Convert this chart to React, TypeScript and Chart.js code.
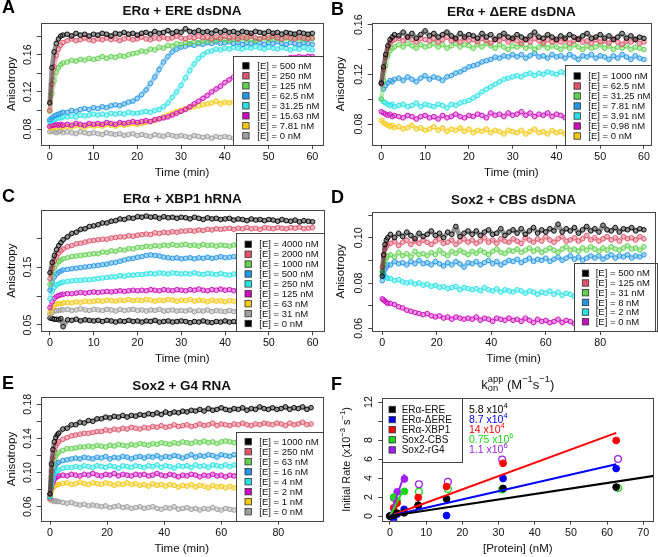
import React, { useEffect, useRef } from "react";
import { Chart, registerables } from "chart.js";

Chart.register(...registerables);

const FONT = "'Liberation Sans', Arial, Helvetica, sans-serif";
const AX = "#454545";
const TXT = "#111111";
const PAL = ["#000000", "#DF536B", "#61D04F", "#2297E6", "#28E2E5", "#CD0BBC", "#F5C710", "#9E9E9E"];

// ---------- time grids (min) ----------
const T60 = [0, 0.5, 1, 1.5, 2, 2.5, 3, 4, 5, 6, 7, 8, 9, 10,
  11, 12, 13, 14, 15, 16, 17, 18, 19, 20, 21, 22, 23, 24, 25, 26, 27, 28, 29, 30,
  31, 32, 33, 34, 35, 36, 37, 38, 39, 40, 41, 42, 43, 44, 45, 46, 47, 48, 49, 50,
  51, 52, 53, 54, 55, 56, 57, 58, 59, 60];
const T96 = [0, 0.5, 1, 1.5, 2,
  3, 4.5, 6, 7.5, 9, 10.5, 12, 13.5, 15, 16.5,
  18, 19.5, 21, 22.5, 24, 25.5, 27, 28.5, 30, 31.5,
  33, 34.5, 36, 37.5, 39, 40.5, 42, 43.5, 45, 46.5,
  48, 49.5, 51, 52.5, 54, 55.5, 57, 58.5, 60, 61.5,
  63, 64.5, 66, 67.5, 69, 70.5, 72, 73.5, 75, 76.5,
  78, 79.5, 81, 82.5, 84, 85.5, 87, 88.5, 90, 91.5,
  93, 94.5, 96];
const T92 = [0, 0.5, 1, 1.5, 2, 2.5,
  3, 4.5, 6, 7.5, 9, 10.5, 12, 13.5, 15, 16.5,
  18, 19.5, 21, 22.5, 24, 25.5, 27, 28.5, 30, 31.5,
  33, 34.5, 36, 37.5, 39, 40.5, 42, 43.5, 45, 46.5,
  48, 49.5, 51, 52.5, 54, 55.5, 57, 58.5, 60, 61.5,
  63, 64.5, 66, 67.5, 69, 70.5, 72, 73.5, 75, 76.5,
  78, 79.5, 81, 82.5, 84, 85.5, 87, 88.5, 90, 91.5];

// ---------- tick values ----------
const X_TICKS_60 = [0, 10, 20, 30, 40, 50, 60];
const X_TICKS_90 = [0, 20, 40, 60, 80];
const X_TICKS_F = [0, 10, 20, 30, 40, 50, 60, 70];
const Y_TICKS_A = [0.08, 0.1, 0.12, 0.14, 0.16, 0.18];
const Y_LABELS_A = [0.08, 0.12, 0.16];
const Y_TICKS_B = [0.08, 0.1, 0.12, 0.14, 0.16];
const Y_LABELS_B = [0.08, 0.12, 0.16];
const Y_TICKS_C = [0.05, 0.1, 0.15, 0.2];
const Y_LABELS_C = [0.05, 0.15];
const Y_TICKS_D = [0.06, 0.07, 0.08, 0.09, 0.1, 0.11];
const Y_LABELS_D = [0.06, 0.08, 0.1];
const Y_TICKS_E = [0.06, 0.08, 0.1, 0.12, 0.14, 0.16, 0.18];
const Y_LABELS_E = [0.06, 0.1, 0.14, 0.18];
const Y_TICKS_F = [0, 2, 4, 6, 8, 10, 12];
const Y_LABELS_F = [0, 2, 4, 6, 8, 12];

// ---------- Panel A: ERα + ERE dsDNA ----------
const A_LABELS = ["[E] = 500 nM", "[E] = 250 nM", "[E] = 125 nM", "[E] = 62.5 nM", "[E] = 31.25 nM", "[E] = 15.63 nM", "[E] = 7.81 nM", "[E] = 0 nM"];
const A_500 = [.108, .146, .163, .172, .177, .180, .181,
  .182, .180, .183, .181, .182, .180, .182,
  .181, .183, .182, .180, .183, .182, .184, .182, .183, .181,
  .183, .184, .182, .185, .183, .184, .186, .183, .185, .184,
  .188, .185, .184, .186, .184, .185, .183, .186, .184, .186,
  .184, .185, .183, .185, .184, .183, .185, .184, .183, .185,
  .183, .184, .182, .184, .183, .182, .184, .183, .182, .183];
const A_250 = [.100, .128, .147, .159, .166, .170, .173,
  .175, .177, .175, .176, .178, .176, .175,
  .177, .176, .178, .176, .177, .175, .177, .178, .176, .177,
  .179, .177, .176, .178, .177, .179, .177, .178, .180, .178,
  .177, .179, .178, .180, .178, .179, .177, .179, .178, .180,
  .178, .179, .177, .179, .178, .180, .178, .177, .179, .178,
  .180, .178, .177, .179, .178, .177, .179, .178, .177, .178];
const A_125 = [.099, .118, .132, .141, .146, .149, .151,
  .152, .154, .153, .155, .154, .156, .155,
  .156, .158, .156, .158, .157, .159, .158, .160, .161, .162,
  .164, .163, .166, .165, .168, .167, .170, .169, .172, .171,
  .173, .172, .174, .173, .175, .174, .176, .175, .177, .176,
  .175, .177, .176, .178, .176, .177, .175, .177, .178, .176,
  .178, .177, .176, .178, .177, .179, .177, .176, .178, .177];
const A_62 = [.090, .092, .094, .095, .096, .097, .098,
  .098, .100, .099, .101, .102, .101, .103,
  .102, .104, .103, .105, .106, .105, .107, .109, .110, .113,
  .117, .122, .129, .136, .144, .152, .158, .163, .166, .168,
  .169, .171, .170, .172, .171, .173, .172, .174, .172, .173,
  .174, .172, .173, .171, .173, .172, .174, .173, .171, .173,
  .172, .174, .172, .171, .173, .172, .171, .173, .172, .171];
const A_31 = [.088, .089, .090, .091, .092, .092, .093,
  .093, .094, .093, .095, .094, .095, .096,
  .095, .096, .095, .097, .096, .097, .096, .098, .097, .097,
  .098, .099, .098, .100, .101, .104, .108, .114, .120, .127,
  .135, .143, .150, .156, .160, .163, .164, .166, .165, .167,
  .166, .168, .167, .166, .168, .167, .169, .167, .166, .168,
  .167, .166, .168, .167, .165, .167, .166, .168, .166, .165];
const A_15 = [.083, .084, .084, .085, .084, .085, .084,
  .085, .084, .086, .085, .084, .086, .085,
  .086, .085, .087, .086, .085, .087, .086, .087, .088, .087,
  .088, .089, .088, .090, .091, .092, .093, .095, .097, .099,
  .101, .104, .107, .110, .113, .116, .120, .123, .126, .130,
  .133, .136, .139, .141, .143, .145, .147, .149, .151, .152,
  .153, .154, .155, .156, .157, .157, .158, .157, .158, .158];
const A_7 = [.082, .081, .082, .083, .082, .083, .082,
  .083, .082, .084, .083, .082, .084, .083,
  .084, .083, .085, .084, .083, .085, .084, .085, .086, .085,
  .086, .087, .088, .089, .091, .093, .095, .097, .099, .100,
  .102, .103, .104, .105, .106, .107, .108, .110, .107, .109,
  .108, .109, .107, .108, .110, .108, .107, .109, .108, .107,
  .109, .108, .107, .108, .109, .107, .108, .106, .108, .107];
const A_0 = [.077, .078, .077, .076, .077, .078, .076,
  .077, .076, .075, .077, .076, .075, .076,
  .075, .074, .076, .075, .074, .075, .073, .074, .075, .073,
  .074, .073, .072, .074, .073, .072, .074, .073, .072, .073,
  .072, .071, .073, .072, .071, .072, .070, .072, .071, .072,
  .071, .070, .072, .071, .070, .071, .072, .070, .071, .070,
  .071, .070, .069, .071, .070, .069, .070, .071, .069, .070];

// ---------- Panel B: ERα + ΔERE dsDNA ----------
const B_LABELS = ["[E] = 1000 nM", "[E] = 62.5 nM", "[E] = 31.25 nM", "[E] = 7.81 nM", "[E] = 3.91 nM", "[E] = 0.98 nM", "[E] = 0 nM"];
const B_1000 = [.113, .126, .136, .143, .148, .150, .152,
  .151, .154, .150, .153, .149, .152, .155,
  .151, .153, .150, .152, .154, .151, .149, .153, .150, .152,
  .151, .149, .153, .150, .152, .148, .151, .153, .150, .149,
  .152, .150, .148, .151, .154, .150, .149, .152, .150, .148,
  .151, .149, .152, .150, .148, .151, .153, .149, .150, .152,
  .149, .151, .148, .150, .153, .149, .151, .148, .150, .149];
const B_62 = [.112, .124, .134, .141, .145, .147, .148,
  .149, .147, .150, .148, .146, .149, .148,
  .147, .149, .146, .148, .150, .147, .148, .146, .149, .147,
  .148, .146, .149, .147, .145, .148, .147, .149, .146, .148,
  .147, .145, .148, .146, .149, .147, .145, .148, .146, .147,
  .146, .148, .145, .147, .149, .146, .147, .145, .148, .146,
  .147, .145, .148, .146, .144, .147, .146, .148, .145, .146];
const B_31 = [.100, .115, .127, .135, .139, .141, .142,
  .144, .142, .145, .143, .141, .144, .142,
  .143, .145, .142, .144, .141, .143, .145, .142, .144, .143,
  .141, .144, .142, .145, .143, .141, .144, .142, .140, .143,
  .142, .144, .141, .143, .140, .142, .144, .141, .143, .142,
  .140, .143, .141, .144, .142, .140, .143, .141, .142, .144,
  .141, .143, .140, .142, .141, .143, .140, .142, .141, .140];
const B_7 = [.113, .108, .111, .113, .115, .114, .116,
  .117, .115, .118, .116, .114, .117, .119,
  .116, .118, .117, .115, .118, .119, .121, .122, .124, .126,
  .127, .128, .130, .131, .132, .134, .133, .135, .134, .136,
  .134, .136, .133, .135, .137, .134, .135, .133, .136, .134,
  .135, .133, .136, .134, .132, .135, .134, .136, .133, .135,
  .134, .132, .135, .133, .136, .134, .132, .135, .133, .132];
const B_3 = [.100, .098, .097, .096, .095, .096, .094,
  .095, .096, .094, .095, .097, .094, .096,
  .095, .094, .096, .095, .093, .096, .095, .097, .098, .099,
  .101, .103, .106, .108, .110, .112, .114, .116, .117, .118,
  .119, .118, .120, .121, .119, .121, .120, .122, .121, .120,
  .122, .121, .119, .122, .120, .121, .123, .120, .121, .122,
  .120, .122, .121, .119, .122, .120, .121, .122, .120, .121];
const B_098 = [.090, .089, .088, .087, .088, .086, .087,
  .086, .085, .087, .086, .084, .086, .087,
  .085, .086, .084, .087, .085, .086, .088, .086, .085, .087,
  .086, .088, .087, .085, .089, .087, .088, .086, .089, .087,
  .088, .090, .087, .089, .086, .088, .087, .089, .086, .088,
  .087, .085, .088, .086, .087, .085, .088, .086, .087, .086,
  .088, .086, .085, .087, .086, .088, .085, .087, .086, .085];
const B_0 = [.083, .081, .080, .079, .078, .079, .077,
  .078, .076, .077, .079, .076, .077, .075,
  .076, .078, .075, .077, .074, .076, .075, .077, .074, .076,
  .073, .075, .074, .076, .073, .075, .074, .072, .075, .074,
  .073, .075, .072, .074, .076, .073, .074, .072, .075, .073,
  .074, .072, .075, .073, .071, .074, .073, .075, .072, .074,
  .073, .075, .072, .074, .073, .071, .074, .073, .072, .074];

// ---------- Panel C: ERα + XBP1 hRNA ----------
const C_LABELS = ["[E] = 4000 nM", "[E] = 2000 nM", "[E] = 1000 nM", "[E] = 500 nM", "[E] = 250 nM", "[E] = 125 nM", "[E] = 63 nM", "[E] = 31 nM", "[E] = 0 nM"];
const C_4000 = [.140, .158, .170, .180, .187, .192, .197,
  .202, .208, .210, .215, .216, .220, .221,
  .223, .226, .226, .229, .230, .233, .232, .235, .234, .237,
  .236, .238, .236, .237, .234, .237, .235, .236, .234, .236,
  .235, .233, .236, .234, .232, .235, .233, .234, .232, .233,
  .234, .231, .233, .232, .230, .233, .231, .232, .230, .232,
  .231, .229, .232, .230, .229, .231, .228, .230, .229, .228];
const C_2000 = [.130, .148, .160, .168, .174, .178, .181,
  .185, .187, .190, .191, .193, .195, .196,
  .197, .198, .198, .200, .201, .202, .202, .204, .203, .205,
  .206, .207, .206, .209, .208, .210, .209, .211, .210, .212,
  .212, .213, .212, .214, .213, .215, .214, .216, .215, .216,
  .217, .215, .217, .216, .218, .216, .217, .215, .218, .217,
  .216, .218, .217, .216, .218, .217, .219, .216, .217, .218];
const C_1000 = [.120, .137, .148, .155, .159, .162, .164,
  .166, .168, .169, .170, .171, .172, .173,
  .173, .176, .175, .178, .177, .180, .179, .182, .181, .184,
  .184, .186, .185, .187, .186, .188, .187, .189, .187, .188,
  .189, .187, .188, .186, .189, .187, .188, .186, .188, .187,
  .186, .188, .187, .189, .186, .187, .188, .186, .187, .188,
  .187, .186, .188, .187, .185, .187, .188, .186, .187, .186];
const C_500 = [.110, .124, .133, .138, .141, .143, .145,
  .146, .147, .148, .149, .150, .151, .152,
  .153, .154, .155, .157, .158, .160, .162, .164, .165, .167,
  .168, .170, .171, .170, .169, .167, .166, .165, .166, .164,
  .165, .166, .164, .166, .165, .167, .165, .166, .168, .166,
  .167, .168, .166, .167, .169, .167, .166, .168, .167, .166,
  .168, .167, .166, .168, .167, .169, .166, .167, .168, .167];
const C_250 = [.095, .108, .115, .119, .121, .123, .124,
  .125, .126, .127, .127, .128, .128, .129,
  .130, .131, .132, .133, .133, .135, .134, .136, .136, .137,
  .137, .138, .139, .138, .140, .139, .138, .140, .139, .138,
  .139, .138, .140, .138, .137, .139, .138, .137, .139, .137,
  .136, .138, .137, .136, .138, .137, .136, .138, .137, .136,
  .138, .137, .136, .138, .137, .136, .137, .138, .136, .137];
const C_125 = [.080, .090, .096, .099, .101, .102, .103,
  .104, .104, .105, .106, .105, .106, .107,
  .106, .107, .108, .107, .108, .109, .108, .109, .110, .109,
  .110, .109, .111, .110, .109, .111, .110, .109, .111, .110,
  .109, .111, .110, .112, .110, .109, .111, .110, .112, .110,
  .111, .109, .110, .112, .110, .111, .109, .111, .110, .112,
  .110, .111, .109, .110, .112, .110, .111, .109, .110, .111];
const C_63 = [.072, .080, .084, .086, .087, .087, .088,
  .089, .088, .090, .089, .091, .090, .091,
  .092, .091, .093, .092, .091, .093, .092, .094, .092, .093,
  .092, .094, .093, .091, .093, .092, .094, .093, .091, .093,
  .092, .094, .091, .093, .092, .090, .093, .091, .092, .090,
  .092, .091, .089, .092, .090, .091, .089, .092, .090, .091,
  .090, .092, .089, .091, .090, .088, .091, .090, .089, .091];
const C_31 = [.068, .072, .074, .075, .075, .076, .076,
  .077, .075, .076, .078, .076, .075, .077,
  .076, .075, .077, .076, .074, .077, .075, .076, .077, .075,
  .076, .074, .076, .075, .077, .074, .075, .076, .074, .075,
  .074, .076, .073, .075, .074, .076, .073, .075, .074, .073,
  .075, .073, .074, .076, .073, .074, .072, .075, .073, .074,
  .073, .075, .072, .074, .073, .072, .074, .073, .072, .073];
const C_0 = [.062, .061, .060, .060, .059, .061, .047,
  .059, .058, .060, .057, .059, .058, .057,
  .058, .056, .058, .057, .055, .057, .056, .058, .056, .057,
  .055, .057, .056, .058, .055, .056, .057, .055, .056, .057,
  .056, .054, .056, .055, .057, .055, .054, .056, .055, .057,
  .055, .056, .054, .056, .055, .053, .055, .056, .054, .055,
  .056, .054, .055, .053, .055, .054, .056, .054, .055, .054];

// ---------- Panel D: Sox2 + CBS dsDNA ----------
const D_LABELS = ["[E] = 500 nM", "[E] = 125 nM", "[E] = 31 nM", "[E] = 8 nM", "[E] = 2 nM", "[E] = 0 nM"];
const D_500 = [.0830, .0925, .0970, .0990, .1000,
  .1015, .1000, .1020, .1005, .1025, .1010, .0995, .1020, .1005, .1015,
  .1030, .1010, .1020, .1000, .1025, .1015, .1050, .1005, .1020, .1030,
  .1015, .1030, .1010, .1025, .1035, .1015, .1020, .1040, .1010, .1025,
  .1035, .1020, .1040, .1015, .1030, .1045, .1020, .1035, .1025, .1040,
  .1030, .1060, .1025, .1040, .1030, .1045, .1020, .1035, .1050, .1030,
  .1040, .1025, .1055, .1035, .1030, .1045, .1025, .1040, .1035, .1045,
  .1030, .1040, .1035];
const D_125 = [.0870, .0920, .0950, .0960, .0970,
  .0975, .0985, .0965, .0980, .0990, .0970, .0985, .0975, .0990, .0980,
  .0970, .0985, .0995, .0975, .0980, .0990, .0970, .0985, .0995, .0980,
  .0990, .0975, .0985, .1000, .0980, .0990, .0975, .0995, .0985, .0980,
  .0995, .0985, .0975, .1000, .0990, .0980, .0995, .0985, .1005, .0990,
  .0980, .0995, .1005, .0985, .0990, .1000, .0985, .0995, .1010, .0990,
  .1000, .0985, .0995, .1005, .0990, .1000, .0985, .1005, .0995, .1000,
  .0990, .1005, .0995];
const D_31 = [.0850, .0880, .0900, .0910, .0920,
  .0925, .0915, .0935, .0920, .0930, .0915, .0940, .0925, .0930, .0920,
  .0935, .0925, .0945, .0930, .0920, .0940, .0930, .0945, .0935, .0925,
  .0940, .0930, .0945, .0935, .0925, .0940, .0950, .0935, .0930, .0945,
  .0940, .0950, .0935, .0945, .0955, .0940, .0950, .0935, .0945, .0955,
  .0945, .0935, .0950, .0960, .0945, .0950, .0940, .0955, .0945, .0960,
  .0950, .0940, .0955, .0945, .0960, .0950, .0945, .0955, .0965, .0950,
  .0955, .0945, .0960];
const D_8 = [.0810, .0840, .0860, .0870, .0880,
  .0880, .0895, .0885, .0890, .0880, .0895, .0885, .0900, .0885, .0890,
  .0880, .0895, .0885, .0875, .0890, .0880, .0895, .0885, .0870, .0890,
  .0885, .0895, .0880, .0890, .0900, .0885, .0895, .0880, .0890, .0900,
  .0895, .0905, .0890, .0900, .0910, .0895, .0905, .0900, .0910, .0895,
  .0905, .0915, .0900, .0910, .0920, .0905, .0915, .0900, .0910, .0920,
  .0910, .0920, .0905, .0915, .0925, .0910, .0920, .0915, .0925, .0910,
  .0920, .0915, .0925];
const D_2 = [.0850, .0835, .0830, .0825, .0820,
  .0820, .0810, .0815, .0805, .0800, .0805, .0795, .0800, .0790, .0795,
  .0785, .0790, .0780, .0785, .0775, .0780, .0785, .0770, .0780, .0775,
  .0770, .0775, .0765, .0780, .0770, .0765, .0775, .0760, .0770, .0765,
  .0760, .0770, .0765, .0755, .0765, .0760, .0750, .0760, .0755, .0765,
  .0750, .0760, .0745, .0755, .0750, .0740, .0755, .0745, .0750, .0740,
  .0750, .0745, .0740, .0750, .0745, .0735, .0745, .0740, .0750, .0740,
  .0745, .0740, .0735];
const D_0 = [.0730, .0725, .0720, .0715, .0710,
  .0710, .0705, .0695, .0690, .0680, .0675, .0670, .0665, .0660, .0665,
  .0655, .0650, .0655, .0645, .0650, .0640, .0650, .0645, .0640, .0645,
  .0640, .0650, .0635, .0645, .0640, .0630, .0645, .0640, .0635, .0645,
  .0635, .0640, .0630, .0645, .0635, .0625, .0640, .0630, .0635, .0625,
  .0630, .0640, .0625, .0635, .0630, .0620, .0635, .0625, .0630, .0620,
  .0630, .0625, .0615, .0630, .0620, .0625, .0615, .0625, .0620, .0615,
  .0625, .0620, .0615];

// ---------- Panel E: Sox2 + G4 RNA ----------
const E_LABELS = ["[E] = 1000 nM", "[E] = 250 nM", "[E] = 63 nM", "[E] = 16 nM", "[E] = 4 nM", "[E] = 2 nM", "[E] = 1 nM", "[E] = 0 nM"];
const E_1000 = [.075, .110, .127, .136, .141, .144,
  .146, .151, .152, .156, .156, .159, .158, .161, .160, .163,
  .163, .165, .164, .166, .165, .167, .165, .167, .166, .168,
  .167, .169, .168, .170, .168, .171, .169, .171, .170, .172,
  .171, .173, .172, .174, .172, .175, .173, .174, .176, .174,
  .173, .175, .174, .176, .173, .175, .174, .177, .175, .174,
  .176, .174, .175, .177, .174, .176, .175, .177, .174, .176];
const E_250 = [.075, .102, .117, .126, .131, .134,
  .136, .139, .141, .143, .144, .145, .146, .146, .147, .148,
  .148, .150, .149, .151, .150, .152, .151, .153, .152, .151,
  .153, .152, .154, .153, .155, .153, .154, .156, .154, .155,
  .156, .154, .155, .157, .155, .156, .158, .155, .157, .156,
  .155, .157, .156, .158, .156, .155, .157, .156, .158, .157,
  .156, .158, .157, .155, .158, .156, .157, .159, .156, .157];
const E_63 = [.073, .095, .108, .115, .119, .122,
  .124, .126, .128, .128, .129, .130, .130, .131, .130, .132,
  .131, .130, .132, .131, .133, .132, .131, .133, .132, .134,
  .133, .132, .134, .133, .135, .134, .133, .135, .134, .136,
  .135, .134, .136, .135, .137, .135, .136, .134, .136, .137,
  .136, .135, .137, .136, .138, .136, .135, .137, .136, .138,
  .137, .136, .138, .136, .137, .139, .136, .137, .138, .136];
const E_16 = [.072, .090, .100, .106, .109, .111,
  .112, .114, .115, .116, .117, .116, .118, .117, .116, .118,
  .117, .119, .116, .118, .117, .119, .118, .116, .118, .119,
  .117, .119, .118, .120, .117, .119, .118, .120, .119, .117,
  .119, .121, .118, .120, .119, .121, .120, .118, .121, .120,
  .119, .121, .120, .122, .119, .121, .120, .122, .121, .119,
  .121, .120, .122, .119, .121, .120, .122, .121, .119, .121];
const E_4 = [.071, .085, .093, .098, .101, .102,
  .103, .105, .106, .106, .107, .106, .108, .107, .106, .108,
  .107, .106, .108, .107, .105, .108, .107, .106, .108, .107,
  .106, .108, .107, .109, .106, .108, .107, .105, .108, .107,
  .108, .106, .109, .107, .108, .106, .109, .108, .107, .109,
  .107, .109, .108, .106, .109, .108, .110, .107, .108, .109,
  .108, .107, .109, .108, .110, .107, .108, .109, .107, .108];
const E_2 = [.070, .082, .088, .092, .094, .095,
  .096, .097, .096, .098, .097, .096, .098, .097, .099, .097,
  .096, .098, .097, .099, .096, .098, .097, .096, .098, .097,
  .098, .096, .097, .099, .097, .096, .098, .097, .095, .097,
  .096, .098, .097, .095, .097, .096, .098, .096, .097, .095,
  .097, .096, .098, .096, .095, .097, .096, .098, .096, .097,
  .096, .098, .095, .097, .096, .098, .096, .095, .097, .096];
const E_1 = [.069, .078, .082, .084, .085, .086,
  .086, .087, .088, .086, .087, .089, .087, .086, .088, .087,
  .086, .088, .087, .085, .087, .086, .088, .086, .087, .085,
  .086, .084, .087, .085, .086, .084, .086, .085, .083, .085,
  .084, .086, .083, .085, .084, .082, .085, .083, .084, .082,
  .084, .082, .083, .085, .082, .083, .081, .084, .082, .083,
  .082, .084, .081, .083, .082, .080, .083, .082, .081, .083];
const E_0 = [.068, .068, .067, .066, .067, .066,
  .066, .065, .064, .065, .063, .062, .063, .061, .062, .061,
  .060, .061, .059, .060, .061, .059, .060, .058, .059, .060,
  .058, .059, .060, .058, .057, .059, .058, .060, .057, .058,
  .059, .057, .058, .056, .058, .057, .059, .057, .056, .058,
  .057, .056, .058, .057, .055, .057, .056, .058, .056, .057,
  .056, .057, .055, .057, .056, .055, .057, .056, .055, .056];

// ---------- Panel F: initial rates ----------
const F_LABELS = ["ERα-ERE", "ERα-ΔERE", "ERα-XBP1", "Sox2-CBS", "Sox2-rG4"];
const F_COLORS = ["#000000", "#0000FF", "#FF0000", "#19D919", "#A020F0"];
const F_KON = [["5.8 x10", "4"], ["8.7 x10", "4"], ["14 x10", "4"], ["0.75 x10", "6"], ["1.1 x10", "6"]];
const F_ERA_X = [0, 0.98, 1.95, 3.91, 7.81, 15.63, 31.25, 62.5];
const F_ERE_Y = [0, 0.1, 0.3, 0.35, 1.15, 1.8, 2.9, 3.05];
const F_DERE_Y = [0, -0.4, 0.2, 0.7, 1.1, 0.05, 3.95, 5.0];
const F_XBP1_Y = [0, 0.85, 1.35, 0.35, 1.95, 3.1, 5.55, 7.95];
const F_SOX_X = [0, 1, 2, 4];
const F_SOX_OPEN_X = [8, 16, 31, 63];
const F_CBS_Y = [0, 2.0, 1.6, 2.6];
const F_CBS_OPEN_Y = [2.55, 2.85, 2.8, 2.95];
const F_RG4_Y = [0, 1.9, 2.55, 3.9];
const F_RG4_OPEN_Y = [3.35, 3.6, 5.95, 6.0];
const F_FIT_ERE = { x: [0, 73], y: [0, 4.23] };
const F_FIT_DERE = { x: [0, 62.5], y: [0, 5.44] };
const F_FIT_XBP1 = { x: [0, 62.5], y: [0, 8.75] };
const F_FIT_CBS = { x: [0, 3.3], y: [0, 2.45] };
const F_FIT_RG4 = { x: [0, 4], y: [0, 4.4] };

// ---------- helpers ----------
function rgba(hex: string, a: number) {
  const n = parseInt(hex.slice(1), 16);
  return `rgba(${(n >> 16) & 255},${(n >> 8) & 255},${n & 255},${a})`;
}

function courseSets(times: number[], series: number[][], labels: string[], colors: string[]) {
  return series.map((vals, i) => ({
    label: labels[i],
    data: vals.slice(0, times.length).map((v, j) => ({ x: times[j], y: v })),
    showLine: true,
    borderColor: rgba(colors[i], 0.42),
    borderWidth: 4.6,
    borderJoinStyle: "round",
    borderCapStyle: "round",
    tension: 0,
    pointRadius: 2.3,
    pointHoverRadius: 2.3,
    pointBorderWidth: 0.9,
    pointBorderColor: colors[i],
    pointBackgroundColor: "rgba(255,255,255,0)",
    order: i + 1,
  }));
}

function fPoints(xs: number[], ys: number[], color: string, filled: boolean) {
  return {
    data: xs.map((x, i) => ({ x, y: ys[i] })),
    showLine: false,
    pointRadius: 3.4,
    pointHoverRadius: 3.4,
    pointBorderWidth: filled ? 1 : 1.3,
    pointBorderColor: color,
    pointBackgroundColor: filled ? color : "rgba(255,255,255,0)",
    order: 2,
  };
}

function fLine(fit: { x: number[]; y: number[] }, color: string) {
  return {
    data: fit.x.map((x, i) => ({ x, y: fit.y[i] })),
    showLine: true,
    borderColor: color,
    borderWidth: 2,
    pointRadius: 0,
    pointHoverRadius: 0,
    order: 1,
  };
}

type Seg = { t: string; sup?: string; sub?: string };

function drawRich(ctx: CanvasRenderingContext2D, segs: Seg[], x: number, y: number, align: string, size: number, weight: string, color: string) {
  const small = size * 0.72;
  const big = `${weight} ${size}px ${FONT}`;
  const sm = `${weight} ${small}px ${FONT}`;
  const widths = segs.map((s) => {
    ctx.font = big;
    const wb = ctx.measureText(s.t).width;
    ctx.font = sm;
    const ws = Math.max(s.sup ? ctx.measureText(s.sup).width : 0, s.sub ? ctx.measureText(s.sub).width : 0);
    return [wb, ws];
  });
  const total = widths.reduce((a, w) => a + w[0] + w[1], 0);
  let cx = align === "center" ? x - total / 2 : x;
  ctx.fillStyle = color;
  ctx.textAlign = "left";
  ctx.textBaseline = "middle";
  segs.forEach((s, i) => {
    ctx.font = big;
    ctx.fillText(s.t, cx, y);
    cx += widths[i][0];
    ctx.font = sm;
    if (s.sup) ctx.fillText(s.sup, cx, y - size * 0.4);
    if (s.sub) ctx.fillText(s.sub, cx, y + size * 0.3);
    cx += widths[i][1];
  });
}

// ---------- panel specs ----------
const PANELS: any[] = [
  {
    key: "A", left: 0, top: 0, w: 329, h: 185, plot: [40.7, 22.7, 323.3, 145], letterY: 8.5,
    title: [{ t: "ERα + ERE dsDNA" }], titleDy: 11, titleBold: true, titleSize: 13.5,
    xMin: -2.06, xMax: 62.5, xTicks: X_TICKS_60, yMin: 0.0628, yMax: 0.1944, yTicks: Y_TICKS_A, yLabels: Y_LABELS_A, yDec: 2,
    xTitle: "Time (min)", yTitle: [{ t: "Anisotropy" }], yTitleX: 12.3, yTitleSize: 11.5,
    legend: { box: [232.7, 56, 323.3, 145], y0: 65.8, dy: 10, sq: 10, tx: 24.6, size: 9.5, labels: A_LABELS, colors: PAL },
    datasets: courseSets(T60, [A_500, A_250, A_125, A_62, A_31, A_15, A_7, A_0], A_LABELS, PAL),
  },
  {
    key: "B", left: 329, top: 0, w: 329, h: 185, plot: [42.7, 23.3, 322, 144.7], letterY: 10,
    title: [{ t: "ERα + ΔERE dsDNA" }], titleDy: 11, titleBold: true, titleSize: 13.5,
    xMin: -2.19, xMax: 61.6, xTicks: X_TICKS_60, yMin: 0.0634, yMax: 0.1611, yTicks: Y_TICKS_B, yLabels: Y_LABELS_B, yDec: 2,
    xTitle: "Time (min)", yTitle: [{ t: "Anisotropy" }], yTitleX: 12, yTitleSize: 11.5,
    legend: { box: [236, 65.3, 322, 144.7], y0: 76, dy: 10, sq: 9, tx: 23.3, size: 9.5, labels: B_LABELS, colors: PAL },
    datasets: courseSets(T60, [B_1000, B_62, B_31, B_7, B_3, B_098, B_0], B_LABELS, PAL),
  },
  {
    key: "C", left: 0, top: 185, w: 329, h: 185, plot: [40.7, 25, 324, 146.3], letterY: 11.7,
    title: [{ t: "ERα + XBP1 hRNA" }], titleDy: 11, titleBold: true, titleSize: 13.5,
    xMin: -2.12, xMax: 62.6, xTicks: X_TICKS_60, yMin: 0.0391, yMax: 0.2484, yTicks: Y_TICKS_C, yLabels: Y_LABELS_C, yDec: 2,
    xTitle: "Time (min)", yTitle: [{ t: "Anisotropy" }], yTitleX: 12, yTitleSize: 11.5,
    legend: { box: [236, 48.3, 324, 146.3], y0: 59.3, dy: 9.9, sq: 9, tx: 23.3, size: 9.5, labels: C_LABELS, colors: [...PAL, PAL[0]] },
    datasets: courseSets(T60, [C_4000, C_2000, C_1000, C_500, C_250, C_125, C_63, C_31, C_0], C_LABELS, [...PAL, PAL[0]]),
  },
  {
    key: "D", left: 329, top: 185, w: 329, h: 185, plot: [43.3, 26.7, 327.7, 146], letterY: 13,
    title: [{ t: "Sox2 + CBS dsDNA" }], titleDy: 11, titleBold: true, titleSize: 13.5,
    xMin: -3.65, xMax: 100, xTicks: X_TICKS_90, yMin: 0.0588, yMax: 0.1115, yTicks: Y_TICKS_D, yLabels: Y_LABELS_D, yDec: 2,
    xTitle: "Time (min)", yTitle: [{ t: "Anisotropy" }], yTitleX: 12, yTitleSize: 11.5,
    legend: { box: [245, 77.7, 327.7, 146], y0: 88.3, dy: 9.7, sq: 8.3, tx: 21.7, size: 9.5, labels: D_LABELS, colors: PAL },
    datasets: courseSets(T96, [D_500, D_125, D_31, D_8, D_2, D_0], D_LABELS, PAL.slice(0, 6)),
  },
  {
    key: "E", left: 0, top: 370, w: 329, h: 187, plot: [40.7, 27.3, 322.7, 150.7], letterY: 14,
    title: [{ t: "Sox2 + G4 RNA" }], titleDy: 11, titleBold: true, titleSize: 13.5,
    xMin: -3.26, xMax: 95.55, xTicks: X_TICKS_90, yMin: 0.0436, yMax: 0.1882, yTicks: Y_TICKS_E, yLabels: Y_LABELS_E, yDec: 2,
    xTitle: "Time (min)", yTitle: [{ t: "Anisotropy" }], yTitleX: 12, yTitleSize: 11.5,
    legend: { box: [236, 61.7, 322.7, 150.7], y0: 71.7, dy: 10, sq: 9, tx: 23.3, size: 9.5, labels: E_LABELS, colors: PAL },
    datasets: courseSets(T92, [E_1000, E_250, E_63, E_16, E_4, E_2, E_1, E_0], E_LABELS, PAL),
  },
  {
    key: "F", left: 329, top: 370, w: 329, h: 187, plot: [53.3, 28.3, 325, 150.7], letterY: 15.5,
    title: [{ t: "k", sub: "on", sup: "app" }, { t: " (M", sup: "−1" }, { t: "s", sup: "−1" }, { t: ")" }], titleDy: 13.3, titleBold: false, titleSize: 13,
    xMin: -2.12, xMax: 72.76, xTicks: X_TICKS_F, yMin: -0.49, yMax: 12.39, yTicks: Y_TICKS_F, yLabels: Y_LABELS_F, yDec: 0,
    xTitle: "[Protein] (nM)", yTitle: [{ t: "Initial Rate (x10", sup: "−3" }, { t: " s", sup: "−1" }, { t: ")" }], yTitleX: 18.3, yTitleSize: 10.8,
    legend: { box: [53.3, 28.3, 132.7, 92], y0: 39.5, dy: 10.1, sq: 6.7, tx: 19.4, size: 10, labels: F_LABELS, colors: F_COLORS },
    kon: { x: 140, y0: 40.5, dy: 9.9, size: 10.5 },
    datasets: [
      fLine(F_FIT_ERE, F_COLORS[0]),
      fLine(F_FIT_DERE, F_COLORS[1]),
      fLine(F_FIT_XBP1, F_COLORS[2]),
      fLine(F_FIT_CBS, F_COLORS[3]),
      fLine(F_FIT_RG4, F_COLORS[4]),
      fPoints(F_ERA_X, F_ERE_Y, F_COLORS[0], true),
      fPoints(F_ERA_X, F_DERE_Y, F_COLORS[1], true),
      fPoints(F_ERA_X, F_XBP1_Y, F_COLORS[2], true),
      fPoints(F_SOX_X, F_CBS_Y, F_COLORS[3], true),
      fPoints(F_SOX_OPEN_X, F_CBS_OPEN_Y, F_COLORS[3], false),
      fPoints(F_SOX_X, F_RG4_Y, F_COLORS[4], true),
      fPoints(F_SOX_OPEN_X, F_RG4_OPEN_Y, F_COLORS[4], false),
    ],
  },
];

function decorPlugin(p: any) {
  return {
    id: "decor" + p.key,
    afterDraw(chart: any) {
      const ctx: CanvasRenderingContext2D = chart.ctx;
      const ca = chart.chartArea;
      ctx.save();
      // legend
      const lg = p.legend;
      const [l, t, r, b] = lg.box;
      ctx.fillStyle = "#ffffff";
      ctx.fillRect(l, t, r - l, b - t);
      ctx.strokeStyle = AX;
      ctx.lineWidth = 1;
      ctx.strokeRect(Math.round(l) + 0.5, Math.round(t) + 0.5, Math.round(r) - Math.round(l), Math.round(b) - Math.round(t));
      ctx.font = `${lg.size}px ${FONT}`;
      ctx.textAlign = "left";
      ctx.textBaseline = "middle";
      lg.labels.forEach((lab: string, i: number) => {
        const y = lg.y0 + i * lg.dy;
        const sx = l + lg.sq;
        ctx.fillStyle = lg.colors[i];
        ctx.fillRect(sx, y - 3.2, 6.4, 6.4);
        ctx.strokeStyle = "#333333";
        ctx.lineWidth = 0.8;
        ctx.strokeRect(sx, y - 3.2, 6.4, 6.4);
        ctx.fillStyle = TXT;
        ctx.fillText(lab, l + lg.tx, y + 0.5);
      });
      // rate constants (panel F)
      if (p.kon) {
        F_KON.forEach((k, i) => {
          drawRich(ctx, [{ t: k[0], sup: k[1] }], p.kon.x, p.kon.y0 + i * p.kon.dy, "left", p.kon.size, "normal", F_COLORS[i]);
        });
      }
      // plot box
      ctx.strokeStyle = AX;
      ctx.lineWidth = 1;
      const L = Math.round(ca.left), T = Math.round(ca.top), R = Math.round(ca.right), B = Math.round(ca.bottom);
      ctx.strokeRect(L + 0.5, T + 0.5, R - L, B - T);
      // y tick labels (rotated, R style)
      const ys = chart.scales.y;
      ctx.fillStyle = TXT;
      ctx.font = `10.7px ${FONT}`;
      ctx.textAlign = "center";
      ctx.textBaseline = "middle";
      p.yLabels.forEach((v: number) => {
        const py = ys.getPixelForValue(v);
        ctx.save();
        ctx.translate(ca.left - 13, py);
        ctx.rotate(-Math.PI / 2);
        ctx.fillText(v.toFixed(p.yDec), 0, 0);
        ctx.restore();
      });
      // y title
      ctx.save();
      ctx.translate(p.yTitleX, (ca.top + ca.bottom) / 2);
      ctx.rotate(-Math.PI / 2);
      drawRich(ctx, p.yTitle, 0, 0, "center", p.yTitleSize, "normal", TXT);
      ctx.restore();
      // main title
      drawRich(ctx, p.title, (ca.left + ca.right) / 2, ca.top - p.titleDy, "center", p.titleSize, p.titleBold ? "bold" : "normal", TXT);
      // panel letter
      ctx.font = `bold 18px ${FONT}`;
      ctx.fillStyle = "#000000";
      ctx.textAlign = "left";
      ctx.textBaseline = "middle";
      ctx.fillText(p.key, 2, p.letterY);
      ctx.restore();
    },
  };
}

function buildConfig(p: any) {
  const [pl, pt, pr, pb] = p.plot;
  return {
    type: "scatter",
    data: { datasets: p.datasets },
    options: {
      animation: false,
      responsive: false,
      maintainAspectRatio: false,
      events: [],
      layout: { padding: { left: 0, top: pt, right: p.w - pr, bottom: 0 } },
      plugins: { legend: { display: false }, title: { display: false }, tooltip: { enabled: false } },
      scales: {
        x: {
          type: "linear",
          position: "bottom",
          min: p.xMin,
          max: p.xMax,
          afterBuildTicks: (s: any) => { s.ticks = p.xTicks.map((v: number) => ({ value: v })); },
          afterFit: (s: any) => { s.height = p.h - pb; },
          grid: { drawOnChartArea: false, drawTicks: true, tickLength: 4, color: AX, lineWidth: 1 },
          border: { display: false },
          ticks: { color: TXT, font: { family: FONT, size: 10.7 }, padding: 1.5, maxRotation: 0, minRotation: 0, autoSkip: false, callback: (v: any) => String(v) },
          title: { display: true, text: p.xTitle, color: TXT, font: { family: FONT, size: 11.5 }, padding: { top: 0, bottom: p.h - pb - 28 - 6.9 } },
        },
        y: {
          type: "linear",
          min: p.yMin,
          max: p.yMax,
          afterBuildTicks: (s: any) => { s.ticks = p.yTicks.map((v: number) => ({ value: v })); },
          afterFit: (s: any) => { s.width = pl; },
          grid: { drawOnChartArea: false, drawTicks: true, tickLength: 4, color: AX, lineWidth: 1 },
          border: { display: false },
          ticks: { display: false },
          title: { display: false },
        },
      },
    },
    plugins: [decorPlugin(p)],
  };
}

function Panel({ spec }: { spec: any }) {
  const ref = useRef<HTMLCanvasElement>(null);
  useEffect(() => {
    if (!ref.current) return;
    const chart = new Chart(ref.current, buildConfig(spec) as any);
    return () => chart.destroy();
  }, [spec]);
  return (
    <canvas
      ref={ref}
      width={spec.w}
      height={spec.h}
      style={{ position: "absolute", left: spec.left, top: spec.top, width: spec.w, height: spec.h }}
    />
  );
}

export default function App() {
  return (
    <div style={{ position: "absolute", left: 0, top: 0, width: 658, height: 557, background: "#ffffff" }}>
      {PANELS.map((p) => (
        <Panel key={p.key} spec={p} />
      ))}
    </div>
  );
}
